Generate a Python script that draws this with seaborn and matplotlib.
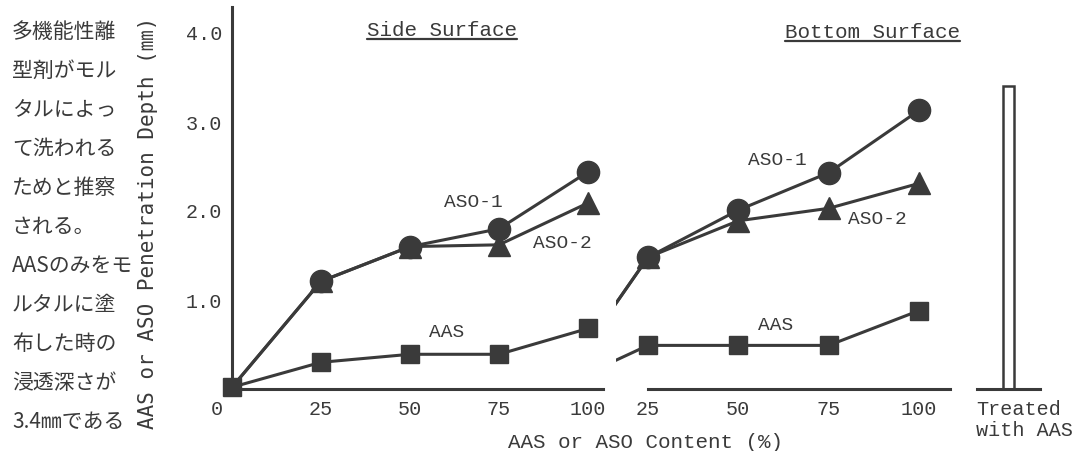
import matplotlib
matplotlib.use("Agg")
import matplotlib.pyplot as plt
import matplotlib.transforms as mtransforms
from matplotlib.lines import Line2D
import seaborn as sns

# data
content = [0, 25, 50, 75, 100]
side_aso1 = [0.02, 1.21, 1.60, 1.80, 2.44]
side_aso2 = [0.02, 1.21, 1.60, 1.62, 2.09]
side_aas = [0.02, 0.30, 0.39, 0.39, 0.68]
bottom_aso1 = [0.02, 1.48, 2.01, 2.43, 3.13]
bottom_aso2 = [0.02, 1.48, 1.89, 2.03, 2.31]
bottom_aas = [0.02, 0.49, 0.49, 0.49, 0.88]
treated = ["Treated\nwith AAS"]
treated_depth = [3.40]

yticks = [1, 2, 3, 4]
ytick_labels = ["1.0", "2.0", "3.0", "4.0"]
side_xticks = [0, 25, 50, 75, 100]
bottom_xticks = [25, 50, 75, 100]

jp_lines = ["多機能性離", "型剤がモル", "タルによっ", "て洗われる", "ためと推察",
            "される。", "AASのみをモ", "ルタルに塗", "布した時の", "浸透深さが",
            "3.4㎜である"]

INK = "#3a3a3a"
MONO = "Liberation Mono"

sns.set_style("white")
plt.rcParams["font.family"] = [MONO, "DejaVu Sans", "Noto Sans CJK JP"]
plt.rcParams["text.color"] = INK
plt.rcParams["xtick.color"] = INK
plt.rcParams["ytick.color"] = INK

W, H = 1075, 451
fig = plt.figure(figsize=(W / 100, H / 100), dpi=100)
fig.patch.set_facecolor("white")

base = 389
top = 7
ax1 = fig.add_axes([232 / W, (H - base) / H, (603 - 232) / W, (base - top) / H])
ax2 = fig.add_axes([616 / W, (H - base) / H, (950 - 616) / W, (base - top) / H])
ax3 = fig.add_axes([977 / W, (H - base) / H, (1040 - 977) / W, (base - top) / H])

ymax = (base - top) / 89.0


def series(ax, vals, marker, ms, every=None, clip=True):
    sns.lineplot(x=content, y=vals, ax=ax, color=INK, linewidth=2.2,
                 marker=marker, markersize=ms, markeredgecolor=INK,
                 markeredgewidth=1, markevery=every, clip_on=clip,
                 legend=False)


# Side surface
series(ax1, side_aso2, "^", 16, every=[1, 2, 3, 4], clip=False)
series(ax1, side_aso1, "o", 16, every=[1, 2, 3, 4], clip=False)
series(ax1, side_aas, "s", 13, clip=False)
# Bottom surface (axis broken, lines come in from 0)
series(ax2, bottom_aso2, "^", 16)
series(ax2, bottom_aso1, "o", 16)
series(ax2, bottom_aas, "s", 13)
# Treated with AAS only
sns.barplot(x=treated, y=treated_depth, ax=ax3, color=INK, fill=False,
            width=0.19, linewidth=1.8)

for ax in (ax1, ax2, ax3):
    ax.set_facecolor("none")
    ax.set_ylim(0, ymax)
    ax.set_xlabel("")
    ax.set_ylabel("")
    for s in ax.spines.values():
        s.set_visible(False)
        s.set_linewidth(2.2)
        s.set_color(INK)
    ax.spines["bottom"].set_visible(True)

ax1.set_xlim(0, 371 / 3.56)
ax1.spines["left"].set_visible(True)
ax1.set_yticks(yticks, ytick_labels)
ax1.set_xticks(side_xticks, [str(v) for v in side_xticks])
ax1.tick_params(axis="both", direction="in", length=9, width=1.6,
                labelsize=14.5, pad=7)
ax1.tick_params(axis="x", pad=8)
zero_lab = ax1.get_xticklabels()[0]
zero_lab.set_transform(zero_lab.get_transform() + mtransforms.ScaledTranslation(
    -0.15, 0, fig.dpi_scale_trans))

ax2.set_xlim(25 - 32 / 3.613, 25 + 302 / 3.613)
ax2.spines["bottom"].set_bounds(25, 25 + 302 / 3.613)
ax2.set_yticks([])
ax2.set_xticks(bottom_xticks, [str(v) for v in bottom_xticks])
ax2.tick_params(axis="x", direction="in", length=9, width=1.6,
                labelsize=14.5, pad=8)

ax3.set_yticks([])
ax3.tick_params(axis="x", length=0, labelsize=14.5, pad=8)
for lab in ax3.get_xticklabels():
    lab.set_multialignment("left")
    lab.set_linespacing(1.1)
    lab.set_transform(lab.get_transform() + mtransforms.ScaledTranslation(
        0.16, 0, fig.dpi_scale_trans))

# curve labels
ax1.text(67.7, 2.09, "ASO-1", ha="center", va="center", fontsize=14)
ax1.text(92.7, 1.64, "ASO-2", ha="center", va="center", fontsize=14)
ax1.text(60.4, 0.63, "AAS", ha="center", va="center", fontsize=14)
ax2.text(60.7, 2.57, "ASO-1", ha="center", va="center", fontsize=14)
ax2.text(88.4, 1.90, "ASO-2", ha="center", va="center", fontsize=14)
ax2.text(60.2, 0.71, "AAS", ha="center", va="center", fontsize=14)

t1 = ax1.text(59, 4.03, "Side Surface", ha="center", va="center", fontsize=15)
t2 = ax2.text(87.0, 4.01, "Bottom Surface", ha="center", va="center",
              fontsize=15)

fig.text(645 / W, 1 - 442 / H, "AAS or ASO Content (%)", ha="center",
         va="center", fontsize=15)
fig.text(148 / W, 1 - 223 / H, "AAS or ASO Penetration Depth (㎜)",
         ha="center", va="center", rotation=90, fontsize=15,
         family=["DejaVu Sans Mono", "Noto Sans CJK JP"])

for i, line in enumerate(jp_lines):
    fig.text(12 / W, 1 - (32 + 39 * i) / H, line, ha="left", va="center",
             fontsize=15, family=["Noto Sans CJK JP", "DejaVu Sans"])

# underline the two panel titles
fig.canvas.draw()
renderer = fig.canvas.get_renderer()
for t in (t1, t2):
    bb = t.get_window_extent(renderer)
    fig.add_artist(Line2D([bb.x0 / W, bb.x1 / W], [(bb.y0 + 1) / H] * 2,
                          transform=fig.transFigure, color=INK, linewidth=1.6))

fig.savefig("out.png", dpi=100, facecolor="white")
